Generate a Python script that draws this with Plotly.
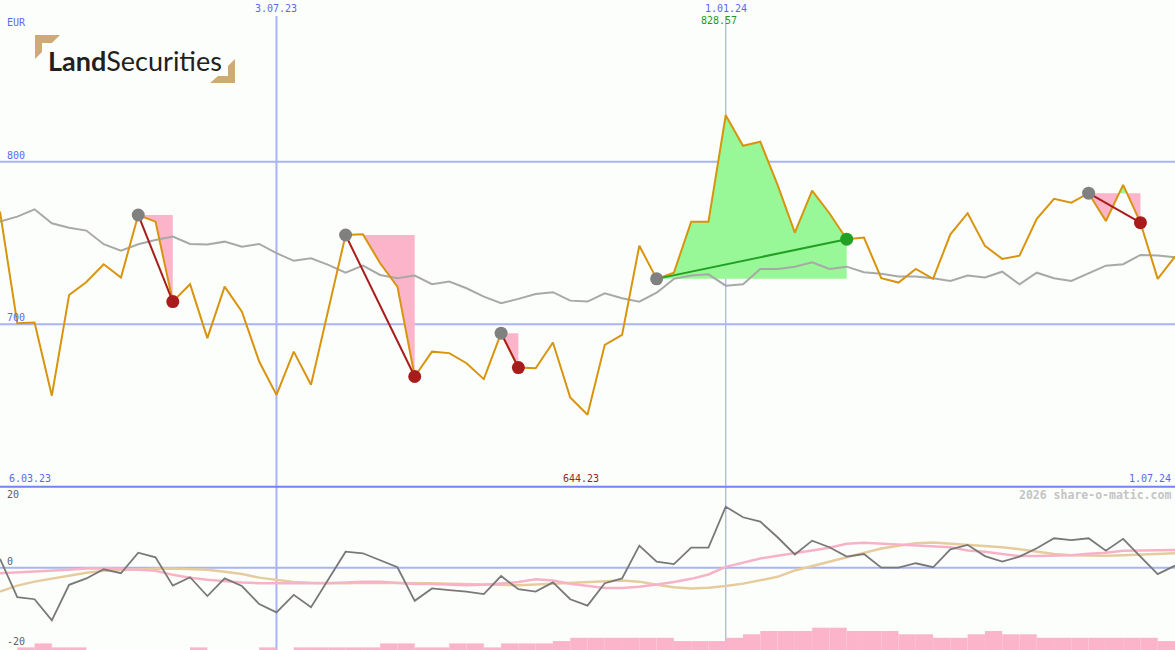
import pandas as pd
import plotly.graph_objects as go

W, H = 1175, 650

# ---------------- data ----------------
dates = pd.date_range("2023-03-13", periods=69, freq="7D")
range_start = pd.Timestamp("2023-03-06")

price = [769.3, 700.6, 701.0, 656.0, 718.0, 726.0, 736.9, 728.7, 767.2, 763.1,
         713.9, 724.6, 691.4, 723.1, 707.7, 677.0, 656.5, 683.1, 662.7, 709.0,
         754.9, 755.3, 737.5, 723.1, 667.8, 683.1, 682.2, 676.0, 666.2, 694.5,
         673.3, 672.9, 688.7, 654.9, 644.23, 687.3, 693.4, 748.3, 727.9, 731.7,
         763.1, 763.1, 828.57, 809.8, 812.3, 785.7, 756.3, 782.2, 768.3, 752.3,
         753.3, 728.3, 725.6, 734.0, 727.9, 755.3, 768.3, 748.2, 740.2, 742.2,
         764.8, 777.2, 774.8, 780.6, 763.5, 785.7, 762.5, 727.9, 741.6]

moving_avg = [763.1, 766.2, 770.7, 762.1, 759.4, 757.6, 749.2, 745.3, 749.2, 751.8,
              753.9, 749.4, 749.0, 750.8, 747.7, 749.4, 743.7, 739.0, 740.6, 736.5,
              731.7, 736.0, 730.3, 728.3, 729.9, 724.6, 726.2, 722.1, 717.0, 712.9,
              715.6, 718.6, 719.7, 714.5, 713.9, 719.0, 716.0, 713.9, 719.4, 727.9,
              729.9, 730.7, 723.7, 724.6, 734.0, 734.0, 735.4, 738.1, 734.0, 735.4,
              732.0, 731.0, 729.3, 729.3, 728.3, 726.6, 729.9, 728.7, 732.3, 724.6,
              731.7, 728.3, 726.6, 731.4, 736.0, 736.9, 742.6, 742.2, 741.2]

momentum = [2.2, -7.4, -7.9, -13.2, -4.3, -2.7, -0.4, -1.4, 3.75, 2.6,
            -4.5, -2.4, -7.1, -2.7, -4.6, -9.1, -11.2, -6.8, -9.9, -3.1,
            4.0, 3.6, 1.9, 0.1, -8.3, -5.2, -5.6, -6.0, -6.6, -2.1,
            -5.4, -6.0, -3.7, -7.9, -9.5, -3.9, -2.7, 5.5, 1.5, 0.9,
            5.0, 5.0, 15.25, 12.6, 11.5, 7.6, 3.3, 6.75, 5.1, 2.75,
            3.4, 0.0, 0.0, 1.1, 0.1, 4.6, 5.7, 2.9, 1.5, 2.75,
            4.85, 7.35, 6.9, 7.35, 4.25, 7.2, 2.75, -1.6, 0.5]

signal_fast = [-1.4, -1.2, -1.0, -0.8, -0.5, -0.2, -0.15, -0.3, -0.5, -0.8,
               -1.8, -2.5, -3.0, -3.4, -3.7, -3.9, -3.9, -3.8, -3.8, -3.9,
               -3.7, -3.5, -3.5, -3.8, -4.1, -4.1, -4.2, -4.4, -4.3, -4.0,
               -3.6, -2.9, -3.2, -4.0, -4.6, -5.1, -5.1, -4.8, -4.2, -3.6,
               -2.8, -1.7, 0.2, 1.2, 2.3, 3.0, 3.6, 4.3, 5.0, 6.0,
               6.2, 6.0, 5.7, 5.6, 5.4, 5.1, 4.3, 4.0, 3.4, 2.9,
               2.9, 3.0, 3.1, 3.5, 3.7, 4.2, 4.3, 4.4, 4.4]

signal_slow = [-6.0, -4.5, -3.5, -2.8, -2.0, -1.3, -0.8, -0.6, -0.4, -0.3,
               -0.2, -0.4, -0.5, -1.0, -1.6, -2.5, -3.0, -3.6, -3.8, -3.9,
               -3.9, -3.8, -3.8, -3.8, -3.8, -3.9, -4.0, -4.1, -4.2, -4.3,
               -4.4, -4.2, -4.0, -3.8, -3.6, -3.4, -3.2, -3.5, -4.3, -4.9,
               -5.2, -5.0, -4.6, -4.0, -3.2, -2.3, -0.7, 0.4, 1.5, 2.7,
               3.8, 4.8, 5.5, 6.1, 6.3, 6.0, 5.8, 5.5, 5.1, 4.6,
               4.0, 3.4, 3.1, 3.0, 3.0, 3.1, 3.3, 3.5, 3.6]

volume = [0.0, 0.8, 2.0, 0.8, 0.8, 0.0, 0.0, 0.0, 0.0, 0.0,
          0.0, 0.8, 0.0, 0.0, 0.0, 0.8, 0.0, 0.8, 0.8, 0.8,
          0.8, 0.8, 2.0, 2.0, 0.8, 0.8, 2.0, 2.0, 0.8, 2.0,
          2.0, 2.0, 2.7, 3.7, 3.7, 3.7, 3.7, 3.7, 3.7, 2.7,
          2.7, 2.7, 3.7, 4.75, 5.75, 5.75, 5.75, 6.75, 6.75, 5.75,
          5.75, 5.75, 4.75, 4.75, 3.7, 3.7, 4.75, 5.75, 4.75, 4.75,
          3.7, 3.7, 3.7, 3.7, 3.7, 3.7, 3.7, 2.7, 2.7]

trades = [(8, 10), (20, 24), (29, 30), (38, 49), (63, 66)]  # entry / exit index
grid_dates = [pd.Timestamp("2023-07-03"), pd.Timestamp("2024-01-01")]
price_ticks = [800, 700]
osc_ticks = [20, 0, -20]

# ---------------- colours ----------------
BG = "#fcfefc"
GRID = "#a9b5f2"
SEP = "#7383f0"
BLUE_TXT = "#5a68f0"
ORANGE = "#d8940c"
MA_COL = "#a8a8a8"
OSC_COL = "#787878"
PINK = "#f8b2c8"
TAN = "#e6cc9c"
FILL_PINK = "#fbb4c9"
FILL_GREEN = "#98f898"
RED = "#a81c1c"
GREEN = "#22a022"
FONT = "DejaVu Sans Mono"

TOP_SPLIT = 486.7  # px where upper panel ends


def fx(px):
    return px / W


def fy(py):
    return 1 - py / H


def dfmt(d):
    return f"{d.day}.{d.month:02d}.{d.year % 100:02d}"


fig = go.Figure()

# ---------------- trade fills ----------------
for e, x_ in trades:
    L = price[e]
    pts = []
    for i in range(e, x_):
        pts.append((dates[i], price[i]))
        a, b = price[i] - L, price[i + 1] - L
        if a * b < 0:
            f = a / (a - b)
            pts.append((dates[i] + (dates[i + 1] - dates[i]) * f, L))
    pts.append((dates[x_], price[x_]))
    xs = [p[0] for p in pts]
    for col, fn in ((FILL_GREEN, max), (FILL_PINK, min)):
        ys = [fn(p[1], L) for p in pts]
        fig.add_trace(go.Scatter(
            x=xs + [dates[x_], dates[e]], y=ys + [L, L], fill="toself",
            fillcolor=col, line=dict(width=0), mode="lines",
            hoverinfo="skip", showlegend=False, xaxis="x", yaxis="y"))

# ---------------- price panel ----------------
fig.add_trace(go.Scatter(x=dates, y=moving_avg, mode="lines",
                         line=dict(color=MA_COL, width=2), showlegend=False,
                         xaxis="x", yaxis="y"))
fig.add_trace(go.Scatter(x=dates, y=price, mode="lines",
                         line=dict(color=ORANGE, width=2), showlegend=False,
                         xaxis="x", yaxis="y"))

for e, x_ in trades:
    win = price[x_] > price[e]
    col = GREEN if win else RED
    fig.add_trace(go.Scatter(x=[dates[e], dates[x_]], y=[price[e], price[x_]],
                             mode="lines", line=dict(color=col, width=2),
                             showlegend=False, xaxis="x", yaxis="y"))
    fig.add_trace(go.Scatter(x=[dates[e]], y=[price[e]], mode="markers",
                             marker=dict(color="#808080", size=13),
                             showlegend=False, xaxis="x", yaxis="y"))
    fig.add_trace(go.Scatter(x=[dates[x_]], y=[price[x_]], mode="markers",
                             marker=dict(color=col, size=13),
                             showlegend=False, xaxis="x", yaxis="y"))

# ---------------- oscillator panel ----------------
fig.add_trace(go.Bar(x=dates, y=volume, width=7 * 24 * 3600 * 1000, offset=0,
                     marker=dict(color=FILL_PINK, line=dict(width=0)),
                     showlegend=False, xaxis="x2", yaxis="y3"))
fig.add_trace(go.Scatter(x=dates, y=signal_slow, mode="lines",
                         line=dict(color=TAN, width=2.5), showlegend=False,
                         xaxis="x2", yaxis="y2"))
fig.add_trace(go.Scatter(x=dates, y=signal_fast, mode="lines",
                         line=dict(color=PINK, width=2.5), showlegend=False,
                         xaxis="x2", yaxis="y2"))
fig.add_trace(go.Scatter(x=dates, y=momentum, mode="lines",
                         line=dict(color=OSC_COL, width=1.8), showlegend=False,
                         xaxis="x2", yaxis="y2"))

# ---------------- shapes (grid) ----------------
shapes = []
for k, gd in enumerate(grid_dates):
    shapes.append(dict(type="line", xref="x", yref="paper", x0=gd, x1=gd,
                       y0=0, y1=fy(16), line=dict(color=GRID, width=2 if k == 0 else 1.3),
                       layer="below"))
for pt in price_ticks:
    shapes.append(dict(type="line", xref="paper", yref="y", x0=0, x1=1, y0=pt, y1=pt,
                       line=dict(color=GRID, width=2), layer="below"))
shapes.append(dict(type="line", xref="paper", yref="y2", x0=0, x1=1, y0=0, y1=0,
                   line=dict(color=GRID, width=2), layer="below"))
shapes.append(dict(type="line", xref="paper", yref="paper", x0=0, x1=1,
                   y0=fy(TOP_SPLIT), y1=fy(TOP_SPLIT), line=dict(color=SEP, width=2)))


# logo brackets
def poly(points):
    p = "M " + " L ".join(f"{fx(a):.5f},{fy(b):.5f}" for a, b in points) + " Z"
    return dict(type="path", xref="paper", yref="paper", path=p,
                fillcolor="#cfab72", line=dict(width=0))


shapes.append(poly([(35, 35), (60, 35), (52, 43), (42, 43), (42, 52), (35, 59)]))
shapes.append(poly([(235, 59), (235, 83), (210, 83), (218, 76), (228, 76), (228, 66)]))

# ---------------- annotations ----------------
ann = []


def txt(text, x, y, xref="paper", yref="paper", xanchor="left", color=BLUE_TXT,
        size=10, xshift=0, yshift=0, bold=False):
    ann.append(dict(text=f"<b>{text}</b>" if bold else text, x=x, y=y, xref=xref,
                    yref=yref, xanchor=xanchor, yanchor="middle", showarrow=False,
                    font=dict(family=FONT, size=size, color=color),
                    xshift=xshift, yshift=yshift))


txt("EUR", fx(5), fy(22))
for pt in price_ticks:
    txt(str(pt), fx(5), pt, yref="y", yshift=6.5)
for gd in grid_dates:
    txt(dfmt(gd), gd, fy(9), xref="x", xanchor="center")
imax = max(range(len(price)), key=lambda i: price[i])
imin = min(range(len(price)), key=lambda i: price[i])
txt(f"{price[imax]:.2f}", dates[imax], fy(21), xref="x", xanchor="center",
    color="#229922", xshift=-7)
txt(f"{price[imin]:.2f}", dates[imin], fy(478), xref="x", xanchor="center",
    color="#a02020", xshift=-7)
txt(dfmt(range_start), fx(7), fy(478))
txt(dfmt(dates[-1]), fx(1173), fy(478), xanchor="right")
txt("2026 share-o-matic.com", fx(1173), fy(495), xanchor="right", color="#c4c4c4",
    size=11.5, bold=True)
for t in osc_ticks:
    shift = 6 if t <= 0 else -7
    txt(str(t), fx(5), t, yref="y2", yshift=shift, color="#606060")

ann.append(dict(text="<b>Land</b>Securities", x=fx(46), y=fy(60), xref="paper",
                yref="paper", xanchor="left", yanchor="middle", showarrow=False,
                font=dict(family="Lato", size=27, color="#231f20")))

fig.update_layout(
    width=W, height=H, autosize=False,
    margin=dict(l=0, r=0, t=0, b=0, pad=0),
    paper_bgcolor=BG, plot_bgcolor=BG,
    showlegend=False,
    xaxis=dict(domain=[0, 1], range=[dates[0], dates[-1]], visible=False,
               anchor="y"),
    xaxis2=dict(domain=[0, 1], range=[dates[0], dates[-1]], visible=False,
                anchor="y2", matches="x"),
    yaxis=dict(domain=[fy(TOP_SPLIT), 1], range=[600, 899.5], visible=False,
               anchor="x"),
    yaxis2=dict(domain=[0, fy(TOP_SPLIT)], range=[-20.6, 20.25], visible=False,
                anchor="x2"),
    yaxis3=dict(domain=[0, fy(TOP_SPLIT)], range=[0, 49.4], visible=False,
                anchor="x2", overlaying="y2"),
    shapes=shapes, annotations=ann,
)

fig.write_html("out.html", config={"displayModeBar": False},
               post_script="document.body.style.margin='0';document.body.style.overflow='hidden';")
